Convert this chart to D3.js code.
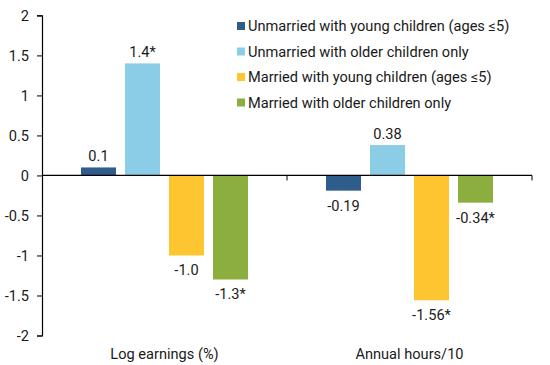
<!DOCTYPE html>
<html><head><meta charset="utf-8">
<script src="https://cdn.jsdelivr.net/npm/d3@7"></script>
<style>body{margin:0;background:#fff}text{font-family:Roboto,"Liberation Sans",sans-serif;fill:#1a1a1a}</style>
</head><body><svg id="c" width="550" height="365"></svg>
<script>
const categories = ["Log earnings (%)", "Annual hours/10"];
const seriesNames = ["Unmarried with young children (ages \u22645)", "Unmarried with older children only", "Married with young children (ages \u22645)", "Married with older children only"];
const seriesColors = ["#2e5d8c", "#8bcce6", "#fdc52f", "#8bae3e"];
const valuesLogEarnings = [0.1, 1.4, -1.0, -1.3];
const valuesAnnualHours = [-0.19, 0.38, -1.56, -0.34];
const labelsLogEarnings = ["0.1", "1.4*", "-1.0", "-1.3*"];
const labelsAnnualHours = ["-0.19", "0.38", "-1.56*", "-0.34*"];
const yTicks = [2, 1.5, 1, 0.5, 0, -0.5, -1, -1.5, -2];

const data = [
  {cat: categories[0], values: valuesLogEarnings, labels: labelsLogEarnings},
  {cat: categories[1], values: valuesAnnualHours, labels: labelsAnnualHours}
];

const FS = "14.6px";
const svg = d3.select("#c");
const mLeft = 42, mRight = 532, mTop = 15.4, mBottom = 335.5;
const y = d3.scaleLinear().domain([-2, 2]).range([mBottom, mTop]);
const x0 = d3.scaleBand().domain(categories).range([mLeft, mRight]).padding(0);
const x1 = d3.scaleBand().domain(d3.range(4)).range([0, x0.bandwidth()])
  .paddingInner(9/44).paddingOuter(39/44);

// y axis
const yAxis = d3.axisLeft(y).tickValues(yTicks).tickSize(5).tickPadding(8).tickFormat(d => String(d));
const gy = svg.append("g").attr("transform", `translate(${mLeft},0)`).call(yAxis);
gy.select(".domain").attr("stroke", "#000").attr("stroke-width", 1.2);
gy.selectAll(".tick line").attr("stroke", "#000");
gy.selectAll(".tick text").style("font-size", FS).attr("fill", "#1a1a1a");
gy.attr("font-family", null).attr("font-size", null);

// bars
const g = svg.append("g");
data.forEach(d => {
  d.values.forEach((v, i) => {
    const bx = x0(d.cat) + x1(i);
    g.append("rect").attr("x", bx).attr("width", x1.bandwidth())
      .attr("y", y(Math.max(0, v))).attr("height", Math.abs(y(v) - y(0)))
      .attr("fill", seriesColors[i]);
    g.append("text").attr("x", bx + x1.bandwidth()/2)
      .attr("y", v >= 0 ? y(v) - 6 : y(v) + 20)
      .attr("text-anchor", "middle").style("font-size", FS).text(d.labels[i]);
  });
});

// x axis at zero
svg.append("line").attr("x1", mLeft).attr("x2", mRight).attr("y1", y(0)).attr("y2", y(0)).attr("stroke", "#000").attr("stroke-width", 1.2);
[x0(categories[1]), mRight].forEach(tx => {
  svg.append("line").attr("x1", tx).attr("x2", tx).attr("y1", y(0)).attr("y2", y(0) + 5).attr("stroke", "#000");
});

// category labels
categories.forEach(c => {
  svg.append("text").attr("x", x0(c) + x0.bandwidth()/2).attr("y", 359)
    .attr("text-anchor", "middle").style("font-size", FS).text(c);
});

// legend
const lg = svg.append("g");
seriesNames.forEach((n, i) => {
  const ly = 26 + i * 25.5;
  lg.append("rect").attr("x", 237).attr("y", ly - 4).attr("width", 8).attr("height", 8).attr("fill", seriesColors[i]);
  lg.append("text").attr("x", 248).attr("y", ly + 5).style("font-size", FS).text(n);
});
</script></body></html>
